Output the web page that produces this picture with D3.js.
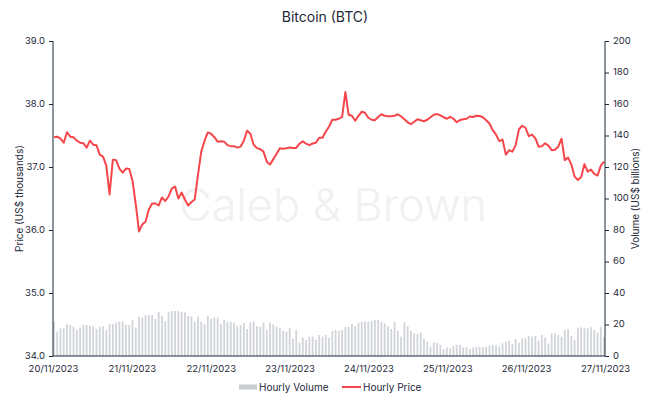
<!DOCTYPE html>
<html>
<head>
<meta charset="utf-8">
<script src="https://cdn.jsdelivr.net/npm/d3@7"></script>
<style>
  body { margin: 0; background: #fff; }
  text { font-family: Inter, "Noto Sans", sans-serif; fill: #1d2838; }
  .axis path, .axis line { stroke: #1d2838; }
</style>
</head>
<body>
<div class="chart"></div>
<script>
// hourly price, US$ thousands (20/11/2023 00:00 -> 27/11/2023 00:00)
var priceK = [
  37.473, 37.481, 37.449, 37.386, 37.552, 37.481, 37.473, 37.418, 37.386, 37.378,
  37.307, 37.418, 37.354, 37.347, 37.196, 37.165, 37.022, 36.565, 37.117, 37.109,
  36.975, 36.911, 36.975, 36.967, 36.785, 36.405, 35.978, 36.089, 36.136, 36.326,
  36.421, 36.421, 36.389, 36.516, 36.460, 36.532, 36.658, 36.690, 36.500, 36.595,
  36.484, 36.389, 36.445, 36.484, 36.880, 37.244, 37.418, 37.549, 37.528, 37.473,
  37.402, 37.410, 37.402, 37.347, 37.331, 37.331, 37.307, 37.323, 37.418, 37.576,
  37.528, 37.354, 37.299, 37.283, 37.244, 37.085, 37.038, 37.125, 37.212, 37.299,
  37.291, 37.299, 37.310, 37.302, 37.302, 37.370, 37.407, 37.370, 37.347, 37.373,
  37.386, 37.465, 37.465, 37.560, 37.639, 37.750, 37.750, 37.766, 37.797, 38.190,
  37.829, 37.813, 37.734, 37.813, 37.877, 37.861, 37.782, 37.750, 37.742, 37.793,
  37.837, 37.813, 37.805, 37.805, 37.813, 37.837, 37.805, 37.758, 37.710, 37.679,
  37.718, 37.758, 37.742, 37.726, 37.750, 37.790, 37.829, 37.840, 37.821, 37.790,
  37.766, 37.797, 37.766, 37.710, 37.745, 37.758, 37.766, 37.801, 37.793, 37.813,
  37.810, 37.790, 37.742, 37.690, 37.584, 37.513, 37.410, 37.434, 37.196, 37.267,
  37.244, 37.347, 37.600, 37.655, 37.623, 37.489, 37.513, 37.457, 37.323, 37.331,
  37.378, 37.339, 37.267, 37.275, 37.323, 37.449, 37.109, 37.149, 37.038, 36.848,
  36.793, 36.840, 37.046, 36.927, 36.959, 36.891, 36.864, 37.022, 37.085
];

// hourly volume, US$ billions
var volumeB = [
  21.8, 15.4, 17.6, 17.6, 20.3, 19.7, 18.6, 16.5, 18.0, 19.7,
  19.7, 19.0, 19.0, 17.1, 18.6, 19.0, 16.5, 20.3, 20.3, 21.1,
  21.8, 21.8, 19.7, 19.7, 22.9, 18.0, 25.0, 24.3, 26.0, 26.0,
  26.0, 23.5, 28.1, 25.6, 22.2, 27.7, 28.6, 28.6, 28.6, 28.1,
  27.7, 25.4, 25.0, 21.8, 25.0, 21.8, 20.3, 25.6, 23.5, 24.3,
  24.3, 20.3, 22.9, 21.8, 21.8, 21.1, 19.0, 19.7, 21.1, 17.1,
  21.2, 21.8, 19.0, 18.6, 21.2, 16.5, 21.2, 20.1, 18.6, 18.0,
  15.9, 15.4, 18.0, 10.8, 16.5, 8.5, 11.6, 10.2, 12.3, 12.3,
  10.2, 13.3, 12.3, 13.3, 11.6, 15.9, 16.5, 15.9, 16.5, 18.6,
  18.6, 20.3, 19.0, 21.2, 21.8, 21.8, 21.8, 22.4, 22.9, 22.9,
  21.8, 20.7, 19.0, 17.1, 21.8, 15.9, 12.3, 21.2, 19.0, 15.9,
  14.4, 13.8, 14.8, 10.8, 9.1, 5.9, 8.5, 8.5, 7.0, 4.4,
  5.3, 4.9, 6.3, 7.0, 7.0, 5.5, 5.5, 4.4, 5.3, 5.7,
  5.7, 5.7, 5.9, 6.6, 7.0, 6.6, 5.9, 8.0, 9.1, 9.7,
  7.6, 10.8, 8.5, 11.2, 11.2, 12.7, 12.3, 12.7, 9.7, 13.3,
  11.9, 8.0, 14.4, 14.4, 13.3, 12.3, 16.5, 16.9, 12.7, 10.2,
  17.6, 18.2, 17.6, 17.6, 18.2, 16.5, 14.8, 18.6, 11.9
];

var priceTicks = [34, 35, 36, 37, 38, 39];
var volumeTicks = [0, 20, 40, 60, 80, 100, 120, 140, 160, 180, 200];
var startDate = new Date(2023, 10, 20);
var endDate = new Date(2023, 10, 27);

var width = 651, height = 401;
var margin = {top: 41, right: 46, bottom: 45, left: 53};
var innerW = width - margin.left - margin.right,
    innerH = height - margin.top - margin.bottom;

var svg = d3.select(".chart").append("svg")
    .attr("width", width)
    .attr("height", height);

var g = svg.append("g")
    .attr("transform", "translate(" + margin.left + "," + margin.top + ")");

// Scales
var x = d3.scaleBand()
    .domain(d3.range(priceK.length))
    .range([0, innerW])
    .paddingInner(0.45);

var xDate = d3.scaleTime()
    .domain([startDate, endDate])
    .range([0, innerW]);

var yPrice = d3.scaleLinear().domain([34, 39]).range([innerH, 0]);
var yVol = d3.scaleLinear().domain([0, 200]).range([innerH, 0]);

// Watermark
g.append("text")
    .attr("x", 280)
    .attr("y", 180)
    .attr("text-anchor", "middle")
    .style("font-size", "45px")
    .style("font-weight", 300)
    .style("fill", "#f1f1f2")
    .text("Caleb & Brown");

// Volume bars
g.selectAll(".bar")
    .data(volumeB)
    .enter().append("rect")
    .attr("class", "bar")
    .attr("x", function(d, i) { return x(i); })
    .attr("width", x.bandwidth())
    .attr("y", function(d) { return yVol(d); })
    .attr("height", function(d) { return innerH - yVol(d); })
    .attr("fill", "#d1d4d9");

// Price line
var line = d3.line()
    .x(function(d, i) { return x(i) + x.bandwidth() / 2; })
    .y(function(d) { return yPrice(d); });

g.append("path")
    .datum(priceK)
    .attr("fill", "none")
    .attr("stroke", "#f5474b")
    .attr("stroke-width", 2)
    .attr("stroke-linejoin", "round")
    .attr("d", line);

// Axes
g.append("g")
    .attr("class", "axis")
    .call(d3.axisLeft(yPrice).tickValues(priceTicks).tickFormat(d3.format(".1f")).tickSize(4).tickPadding(4))
    .call(function(a) { a.select(".domain").attr("d", "M0,0V" + innerH); })
    .selectAll("text").style("font-size", "9.5px").attr("dy", "0.25em");

g.append("g")
    .attr("class", "axis")
    .attr("transform", "translate(" + innerW + ",0)")
    .call(d3.axisRight(yVol).tickValues(volumeTicks).tickSize(4).tickPadding(4))
    .call(function(a) { a.select(".domain").attr("d", "M0,0V" + innerH); })
    .selectAll("text").style("font-size", "9.5px").attr("dy", "0.25em");

g.append("g")
    .attr("class", "axis")
    .attr("transform", "translate(0," + innerH + ")")
    .call(d3.axisBottom(xDate).ticks(d3.timeDay.every(1)).tickFormat(d3.timeFormat("%d/%m/%Y")).tickSize(0).tickPadding(9))
    .call(function(a) { a.select(".domain").attr("d", "M0,0H" + innerW); })
    .selectAll("text").style("font-size", "9.5px");

// Axis titles
svg.append("text")
    .attr("transform", "translate(23," + (margin.top + innerH / 2) + ") rotate(-90)")
    .attr("text-anchor", "middle")
    .style("font-size", "10px")
    .text("Price (US$ thousands)");

svg.append("text")
    .attr("transform", "translate(639," + (margin.top + innerH / 2) + ") rotate(-90)")
    .attr("text-anchor", "middle")
    .style("font-size", "10px")
    .text("Volume (US$ billions)");

// Title
svg.append("text")
    .attr("x", 325)
    .attr("y", 22)
    .attr("text-anchor", "middle")
    .style("font-size", "14px")
    .text("Bitcoin (BTC)");

// Legend
var legend = svg.append("g").attr("transform", "translate(0,387)");
legend.append("rect")
    .attr("x", 239).attr("y", -2.5).attr("width", 18).attr("height", 5)
    .attr("fill", "#c9ccd1");
legend.append("text")
    .attr("x", 259).attr("y", 3.5)
    .style("font-size", "10px")
    .text("Hourly Volume");
legend.append("line")
    .attr("x1", 342).attr("x2", 361).attr("y1", 0).attr("y2", 0)
    .attr("stroke", "#f5474b").attr("stroke-width", 2);
legend.append("text")
    .attr("x", 363).attr("y", 3.5)
    .style("font-size", "10px")
    .text("Hourly Price");
</script>
</body>
</html>
